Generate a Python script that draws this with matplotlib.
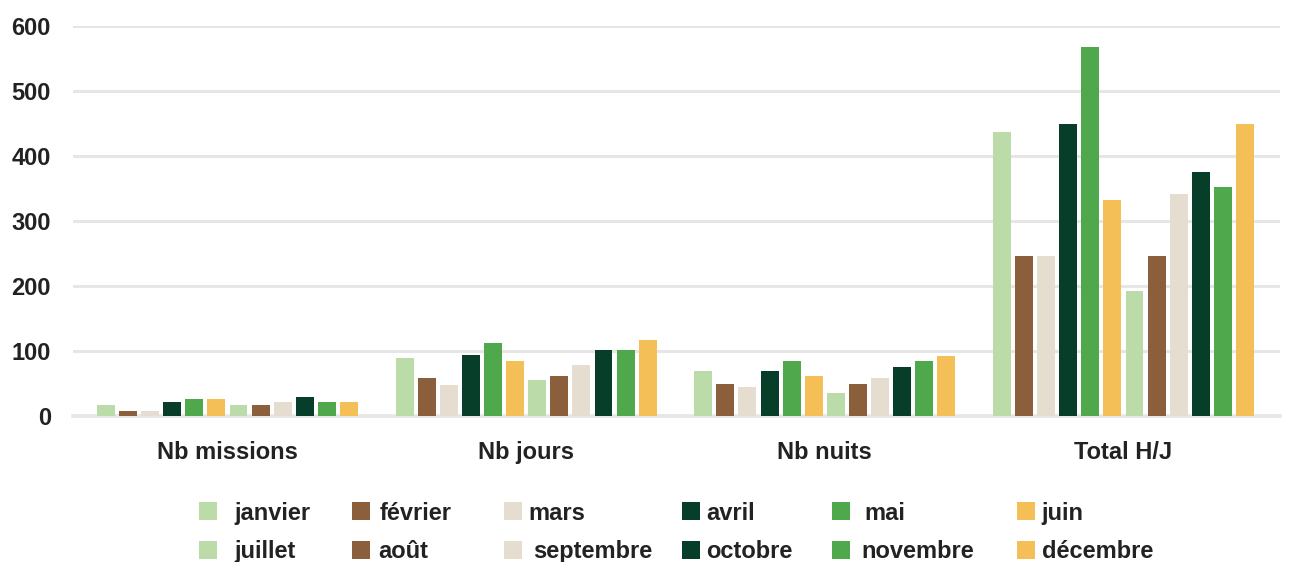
import matplotlib
matplotlib.use("Agg")
import matplotlib.pyplot as plt
from matplotlib.patches import Rectangle
import numpy as np

categories = ["Nb missions", "Nb jours", "Nb nuits", "Total H/J"]
months = ["janvier", "février", "mars", "avril", "mai", "juin",
          "juillet", "août", "septembre", "octobre", "novembre", "décembre"]
colors = ["#bbdca8", "#8b5e3c", "#e6ddd1", "#073e2a", "#4fa84b", "#f5bf57",
          "#bbdca8", "#8b5e3c", "#e6ddd1", "#073e2a", "#4fa84b", "#f5bf57"]

janvier = [17, 90, 70, 437]
fevrier = [8, 58, 49, 246]
mars = [8, 47, 44, 246]
avril = [21, 94, 70, 450]
mai = [26, 113, 85, 567]
juin = [26, 85, 62, 332]
juillet = [17, 55, 35, 193]
aout = [17, 62, 49, 246]
septembre = [21, 79, 58, 341]
octobre = [29, 102, 76, 376]
novembre = [21, 102, 85, 353]
decembre = [21, 117, 93, 450]
series = [janvier, fevrier, mars, avril, mai, juin,
          juillet, aout, septembre, octobre, novembre, decembre]

yticks = [0, 100, 200, 300, 400, 500, 600]

FONT = "Liberation Sans"
TXT = "#222222"
FS = 17

W, H = 1295, 562
fig = plt.figure(figsize=(W / 100, H / 100), dpi=100)
ax = fig.add_axes([73 / W, 1 - 416 / H, (1280 - 73) / W, (416 - 26) / H])

x = np.arange(len(categories))
slot = 0.074
bw = 0.06
n = len(series)
for i, (vals, c) in enumerate(zip(series, colors)):
    off = (i - (n - 1) / 2) * slot
    ax.bar(x + off, vals, width=bw, color=c, zorder=3, linewidth=0)

ax.set_xlim(-0.517, 3.524)
ax.set_ylim(0, 600)
ax.set_yticks(yticks)
ax.set_yticklabels([str(v) for v in yticks], fontfamily=FONT,
                   fontweight="bold", fontsize=FS, color=TXT)
ax.set_xticks(x)
ax.set_xticklabels(categories, fontfamily=FONT, fontweight="bold",
                   fontsize=FS, color=TXT)
ax.tick_params(axis="y", length=0, pad=16)
ax.tick_params(axis="x", length=0, pad=18)
ax.yaxis.grid(True, color="#e6e6e6", linewidth=2.2, zorder=0)
ax.set_axisbelow(True)
for s in ax.spines.values():
    s.set_visible(False)
ax.axhline(0, color="#e6e6e6", linewidth=2.6, zorder=2, clip_on=False)

# legend (manual, two rows of six)
marker_x = [199, 352, 504, 682, 832, 1017]
text_x_row1 = [234, 380, 528, 706, 864, 1041]
text_x_row2 = [234, 378, 533, 706, 861, 1042]
marker_top = [502, 541]
baselines = [520, 558]
sq = 18
for r in range(2):
    for cidx in range(6):
        idx = r * 6 + cidx
        fig.patches.append(Rectangle((marker_x[cidx] / W, 1 - (marker_top[r] + sq) / H),
                                     sq / W, sq / H, transform=fig.transFigure,
                                     facecolor=colors[idx], edgecolor="none"))
        tx = (text_x_row1 if r == 0 else text_x_row2)[cidx]
        fig.text(tx / W, 1 - baselines[r] / H, months[idx], fontfamily=FONT,
                 fontweight="bold", fontsize=FS, color=TXT,
                 ha="left", va="baseline")

fig.savefig("out.png", dpi=100, facecolor="white")
